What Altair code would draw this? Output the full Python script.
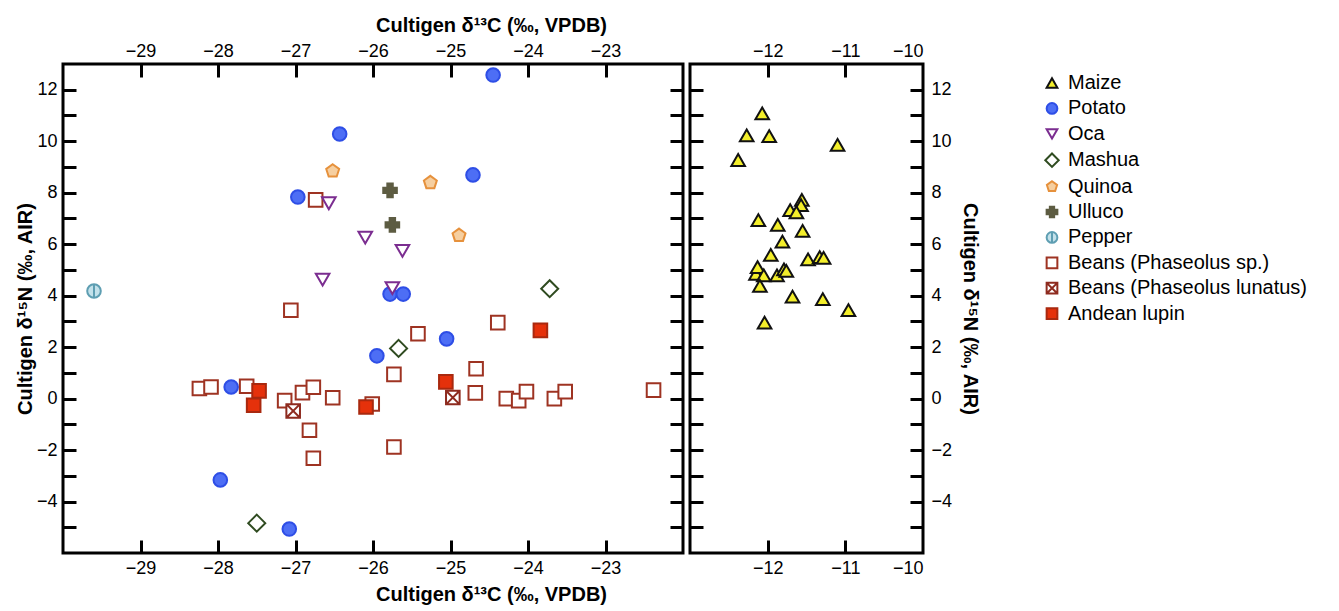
import altair as alt
import pandas as pd

FONT = "Liberation Sans"

SPECIES = ["Maize", "Potato", "Oca", "Mashua", "Quinoa", "Ulluco", "Pepper",
           "Beans (Phaseolus sp.)", "Beans (Phaseolus lunatus)", "Andean lupin"]

PENTAGON = "M0,-1L0.951,-0.309L0.588,0.809L-0.588,0.809L-0.951,-0.309Z"
PEPPER = "M-1,0A1,1,0,1,1,1,0A1,1,0,1,1,-1,0Z M0,-1L0,1"
XSQUARE = "M-1,-1L1,-1L1,1L-1,1Z M-1,-1L1,1 M1,-1L-1,1"
DIAMOND = "M0,-1.25L1.25,0L0,1.25L-1.25,0Z"

SHAPES = ["triangle-up", "circle", "triangle-down", DIAMOND, PENTAGON, "cross",
          PEPPER, "square", XSQUARE, "square"]
FILLS = ["#f3ee2b", "#4d6ef5", "white", "white", "#f6cfa0", "#5d5c42",
         "#c3e1ea", "white", "white", "#e5310b"]
STROKES = ["#111111", "#2e4ee6", "#7b2d90", "#2f4b20", "#e6913c", "#5d5c42",
           "#5e9eb2", "#9e3322", "#8e2b1f", "#a9290f"]

# ---- data (delta13C, delta15N) ----
maize_c13 = [-12.07, -12.27, -11.98, -12.38, -11.10, -11.56, -11.57, -11.71, -11.63, -12.12,
             -11.87, -11.55, -11.81, -11.96, -11.48, -11.33, -11.28, -12.15, -12.13, -12.05,
             -11.88, -11.79, -11.76, -12.10, -11.68, -11.29, -10.96, -12.04]
maize_n15 = [11.08, 10.23, 10.20, 9.27, 9.86, 7.72, 7.52, 7.32, 7.24, 6.93,
             6.75, 6.52, 6.10, 5.58, 5.41, 5.50, 5.47, 4.85, 5.11, 4.79,
             4.79, 5.02, 4.96, 4.38, 3.96, 3.86, 3.44, 2.95]

pepper_c13 = [-29.60]
pepper_n15 = [4.18]

potato_c13 = [-24.45, -26.43, -26.97, -24.71, -25.78, -25.61, -25.05, -25.95, -27.83, -27.97, -27.08]
potato_n15 = [12.57, 10.28, 7.83, 8.69, 4.06, 4.06, 2.32, 1.66, 0.45, -3.16, -5.07]

beans_c13 = [-26.74, -27.06, -28.24, -28.09, -27.63, -27.14, -26.91, -26.77, -26.52, -26.82,
             -26.77, -26.01, -25.73, -25.42, -24.39, -24.67, -24.68, -24.28, -24.12, -24.02,
             -23.66, -23.52, -22.38, -25.73]
beans_n15 = [7.72, 3.43, 0.39, 0.45, 0.48, -0.08, 0.23, 0.44, 0.03, -1.23,
             -2.32, -0.21, 0.94, 2.52, 2.95, 1.16, 0.22, 0.00, -0.08, 0.27,
             0.00, 0.27, 0.33, -1.88]

lunatus_c13 = [-27.03, -24.97]
lunatus_n15 = [-0.48, 0.04]

mashua_c13 = [-23.72, -25.67, -27.50]
mashua_n15 = [4.27, 1.95, -4.84]

oca_c13 = [-26.57, -26.10, -26.65, -25.62, -25.75]
oca_n15 = [7.59, 6.25, 4.62, 5.74, 4.29]

quinoa_c13 = [-26.52, -25.26, -24.89]
quinoa_n15 = [8.84, 8.39, 6.34]

ulluco_c13 = [-25.78, -25.75]
ulluco_n15 = [8.09, 6.75]

lupin_c13 = [-27.47, -27.54, -26.09, -25.06, -23.84]
lupin_n15 = [0.30, -0.26, -0.33, 0.65, 2.65]

# axis values
XLAB_L = [-29, -28, -27, -26, -25, -24, -23]
XLAB_R = [-12, -11, -10]
XTICK_R = [-12, -11]
YLAB = [-4, -2, 0, 2, 4, 6, 8, 10, 12]
YTICK = list(range(-5, 13))

XT = "Cultigen δ¹³C (‰, VPDB)"
YT = "Cultigen δ¹⁵N (‰, AIR)"


def frame(name, c, n):
    return pd.DataFrame({"species": name, "c13": c, "n15": n})


left_df = pd.concat([
    frame("Pepper", pepper_c13, pepper_n15),
    frame("Potato", potato_c13, potato_n15),
    frame("Beans (Phaseolus sp.)", beans_c13, beans_n15),
    frame("Beans (Phaseolus lunatus)", lunatus_c13, lunatus_n15),
    frame("Mashua", mashua_c13, mashua_n15),
    frame("Oca", oca_c13, oca_n15),
    frame("Quinoa", quinoa_c13, quinoa_n15),
    frame("Ulluco", ulluco_c13, ulluco_n15),
    frame("Andean lupin", lupin_c13, lupin_n15),
], ignore_index=True)
right_df = frame("Maize", maize_c13, maize_n15)

W_L, W_R, H = 620, 233, 489
TITLE_X = 428
MSIZE = 185


def lab_axis(orient, values, title=None, **kw):
    args = dict(orient=orient, values=values, ticks=False, domain=False, grid=False,
                labelFont=FONT, labelFontSize=18, labelColor="black", labelPadding=6)
    if title:
        args.update(title=title, titleFont=FONT, titleFontSize=20,
                    titleFontWeight="bold", titleColor="black")
    else:
        args["title"] = None
    args.update(kw)
    return alt.Axis(**args)


def tick_axis(orient, values, offset):
    return alt.Axis(orient=orient, values=values, offset=offset, labels=False,
                    domain=False, grid=False, ticks=True, tickSize=13, tickWidth=3,
                    tickColor="black", title=None)


def style_enc(show_legend):
    if show_legend:
        leg = alt.Legend(title=None, orient="none", legendX=352, legendY=9,
                         labelFont=FONT, labelFontSize=20, labelColor="black",
                         symbolSize=115, symbolStrokeWidth=2, rowPadding=5.4,
                         labelLimit=400, labelOffset=6, padding=0)
    else:
        leg = None
    return dict(
        shape=alt.Shape("species:N", scale=alt.Scale(domain=SPECIES, range=SHAPES), legend=leg),
        fill=alt.Fill("species:N", scale=alt.Scale(domain=SPECIES, range=FILLS), legend=leg),
        stroke=alt.Stroke("species:N", scale=alt.Scale(domain=SPECIES, range=STROKES), legend=leg),
    )


ys = alt.Scale(domain=[-6, 13], nice=False, zero=False)

# ---------------- left panel ----------------
xs_l = alt.Scale(domain=[-30, -22], nice=False, zero=False)
base_l = alt.Chart(left_df)
l1 = base_l.mark_point(filled=True, size=MSIZE, strokeWidth=2, opacity=1).encode(
    x=alt.X("c13:Q", scale=xs_l, axis=lab_axis("bottom", XLAB_L, XT, titleX=TITLE_X, titlePadding=7)),
    y=alt.Y("n15:Q", scale=ys, axis=lab_axis("left", YLAB, YT, titlePadding=1)),
    **style_enc(False),
)
l2 = base_l.mark_point(opacity=0).encode(
    x=alt.X("c13:Q", scale=xs_l, axis=lab_axis("top", XLAB_L, XT, titleX=TITLE_X, titlePadding=7, labelPadding=4)),
    y=alt.Y("n15:Q", scale=ys, axis=tick_axis("right", YTICK, -W_L)),
)
l3 = base_l.mark_point(opacity=0).encode(
    x=alt.X("c13:Q", scale=xs_l, axis=tick_axis("top", XLAB_L, -H)),
    y=alt.Y("n15:Q", scale=ys, axis=tick_axis("left", YTICK, -W_L)),
)
l4 = base_l.mark_point(opacity=0).encode(
    x=alt.X("c13:Q", scale=xs_l, axis=tick_axis("bottom", XLAB_L, -H)),
    y=alt.Y("n15:Q", scale=ys, axis=None),
)
left = alt.layer(l1, l2, l3, l4).properties(width=W_L, height=H)

# ---------------- right panel ----------------
xs_r = alt.Scale(domain=[-13, -10], nice=False, zero=False)
base_r = alt.Chart(right_df)
r1 = base_r.mark_point(filled=True, size=MSIZE, strokeWidth=2, opacity=1).encode(
    x=alt.X("c13:Q", scale=xs_r, axis=lab_axis("bottom", XLAB_R)),
    y=alt.Y("n15:Q", scale=ys, axis=lab_axis("right", YLAB, YT, titlePadding=8, labelPadding=8)),
    **style_enc(True),
)
r2 = base_r.mark_point(opacity=0).encode(
    x=alt.X("c13:Q", scale=xs_r, axis=lab_axis("top", XLAB_R, labelPadding=4)),
    y=alt.Y("n15:Q", scale=ys, axis=tick_axis("left", YTICK, -W_R)),
)
r3 = base_r.mark_point(opacity=0).encode(
    x=alt.X("c13:Q", scale=xs_r, axis=tick_axis("top", XTICK_R, -H)),
    y=alt.Y("n15:Q", scale=ys, axis=tick_axis("right", YTICK, -W_R)),
)
r4 = base_r.mark_point(opacity=0).encode(
    x=alt.X("c13:Q", scale=xs_r, axis=tick_axis("bottom", XTICK_R, -H)),
    y=alt.Y("n15:Q", scale=ys, axis=None),
)
right = alt.layer(r1, r2, r3, r4).properties(width=W_R, height=H)

chart = alt.hconcat(left, right, spacing=1).resolve_scale(
    shape="independent", fill="independent", stroke="independent"
).configure_view(
    stroke="black", strokeWidth=3
).properties(background="white")

chart.save("out.html", embed_options={"renderer": "svg", "actions": False})
